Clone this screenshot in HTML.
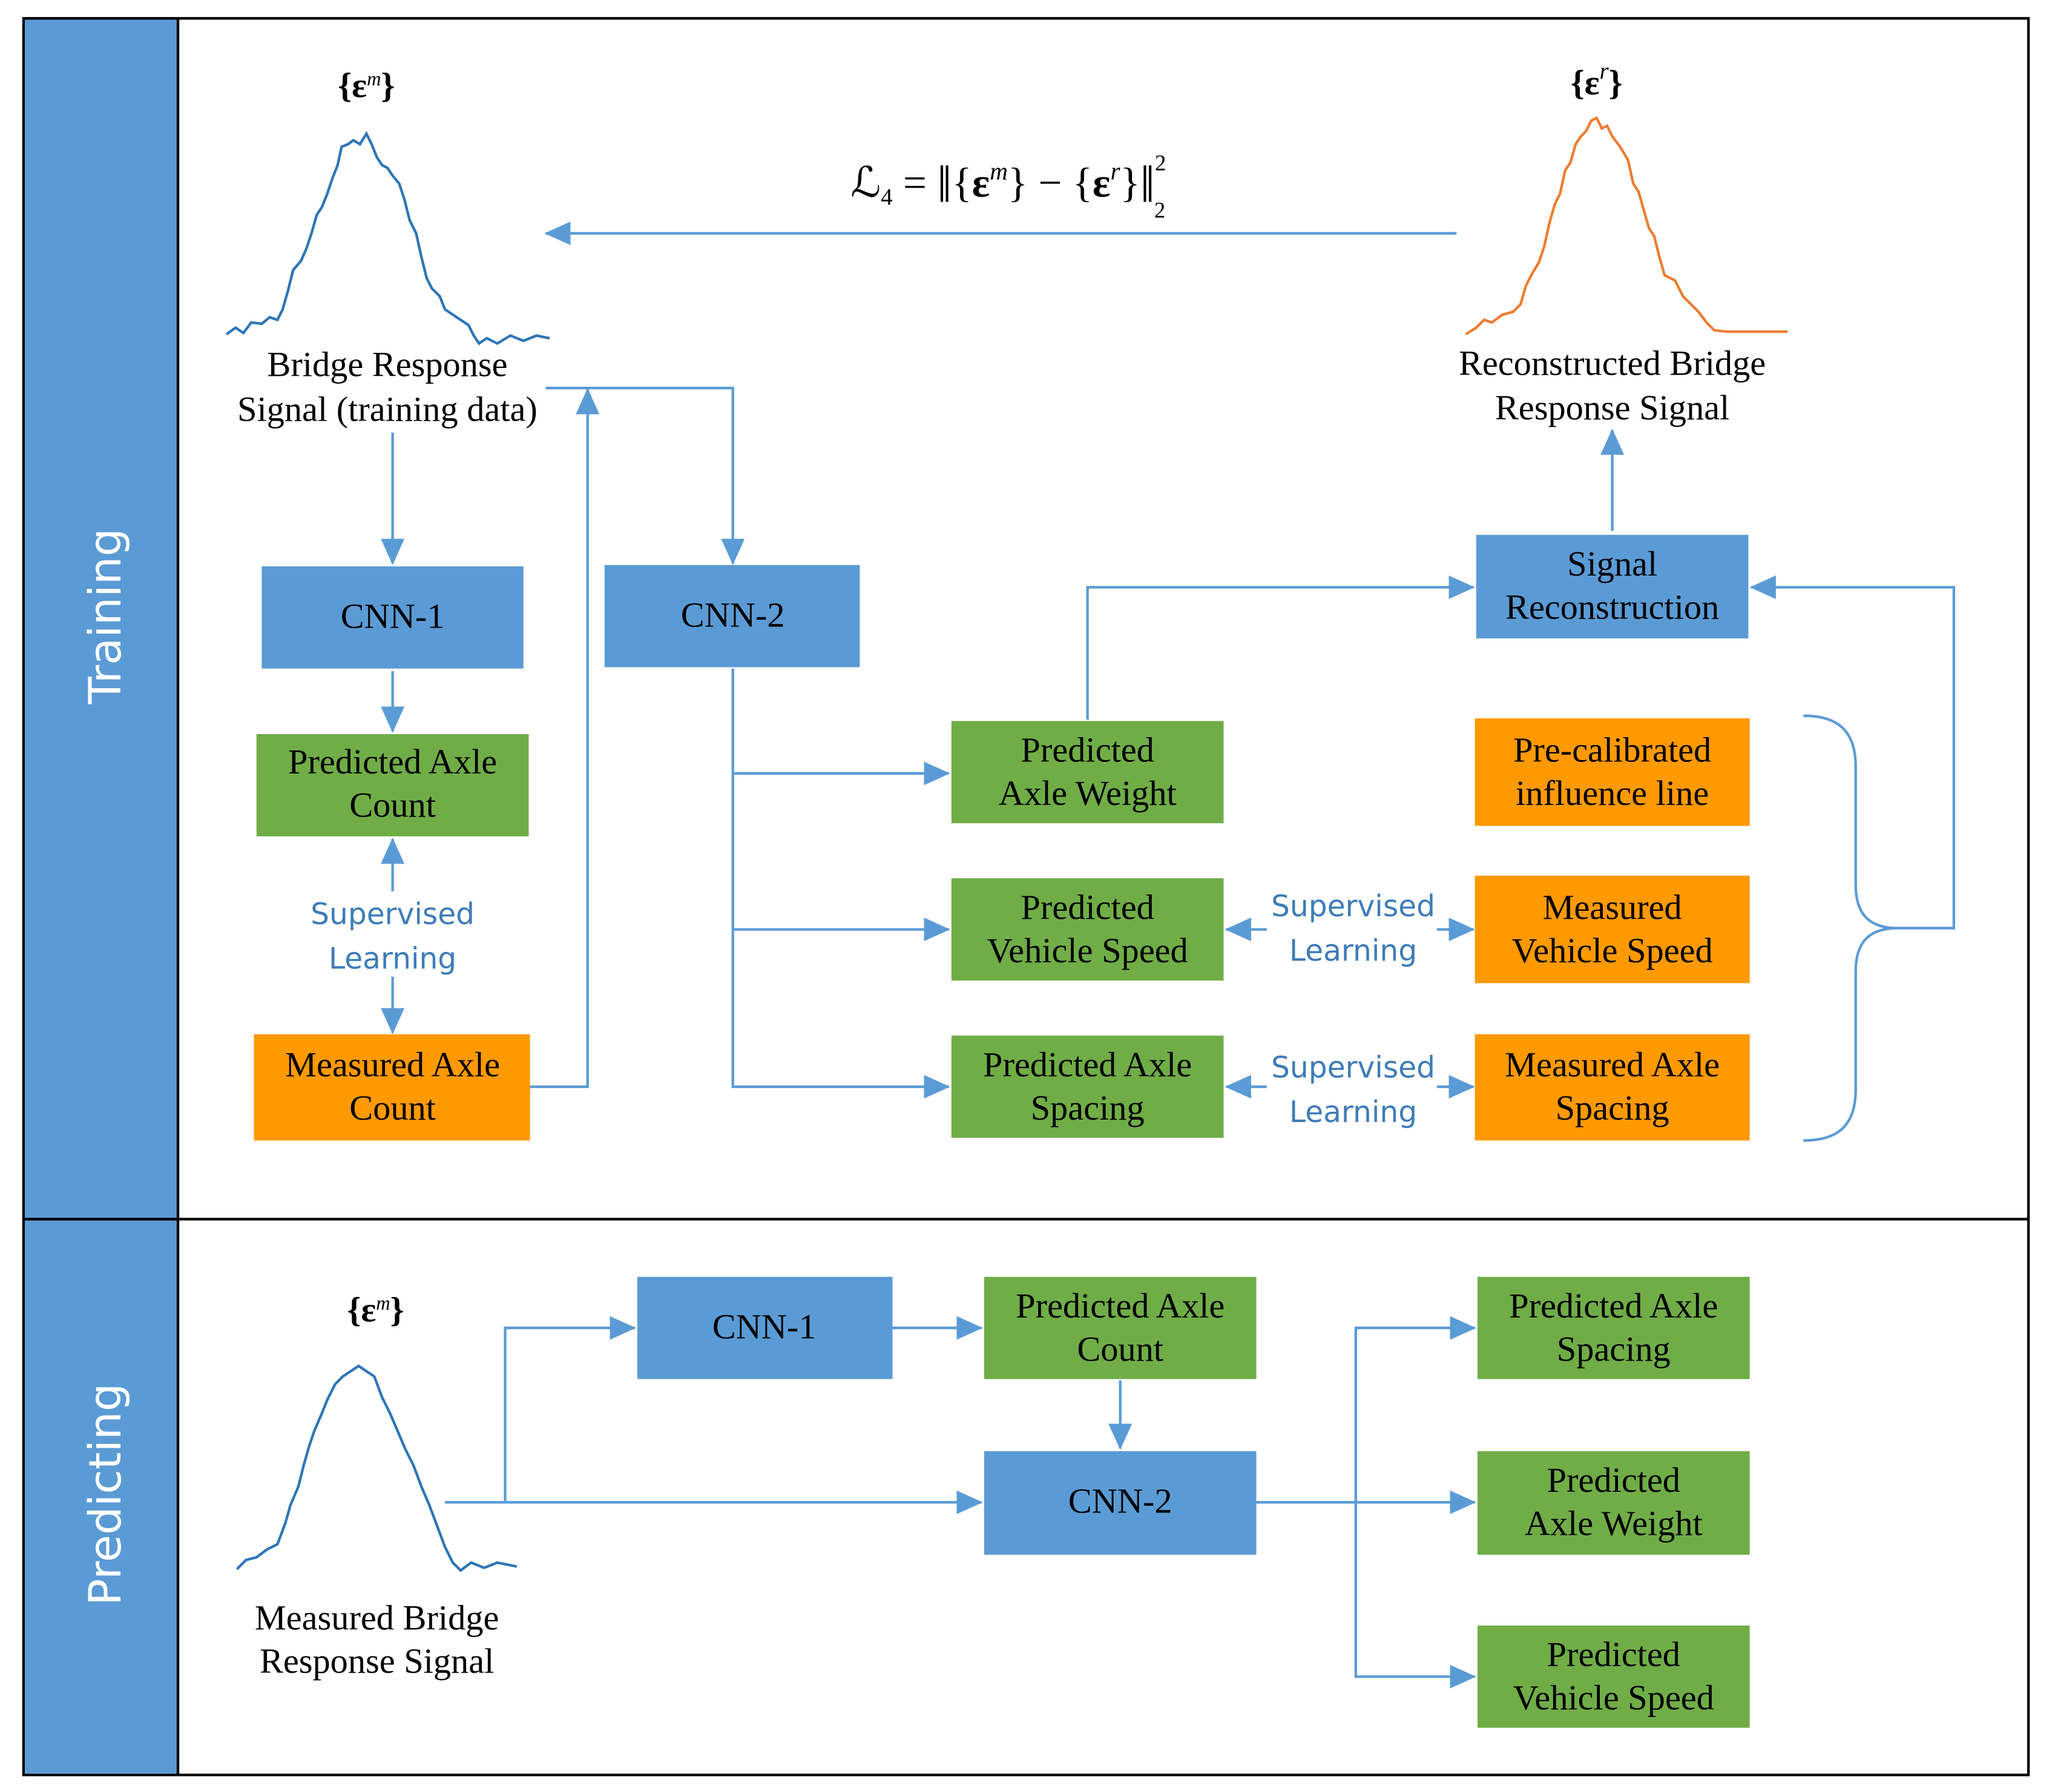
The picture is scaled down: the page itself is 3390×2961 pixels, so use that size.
<!DOCTYPE html>
<html><head><meta charset="utf-8"><style>html,body{margin:0;padding:0;background:#fff}svg{display:block}</style></head><body>
<svg xmlns="http://www.w3.org/2000/svg" width="3390" height="2961" viewBox="0 0 1568 1367" preserveAspectRatio="none">
<defs>
<marker id="a" markerWidth="20" markerHeight="18" refX="19" refY="9" orient="auto" markerUnits="userSpaceOnUse" viewBox="0 0 20 18"><path d="M0,0L20,9L0,18z" fill="#5B9BD5"/></marker>
</defs>
<style>
.s{font-family:"Liberation Serif",serif;font-size:27px;fill:#000;text-anchor:middle}
.sl{font-family:"DejaVu Sans","Liberation Sans",sans-serif;font-size:22.5px;fill:#3E7CB8;text-anchor:middle}
.l{stroke:#5B9BD5;stroke-width:2;fill:none}
.h{stroke:#5B9BD5;stroke-width:2;fill:none;marker-end:url(#a)}
</style>
<rect x="18" y="14" width="1532" height="1340" fill="#fff" stroke="#000" stroke-width="2"/>
<rect x="19" y="15" width="117" height="1338" fill="#5B9BD5"/>
<line x1="136" y1="14" x2="136" y2="1354" stroke="#000" stroke-width="2"/>
<line x1="18" y1="930" x2="1550" y2="930" stroke="#000" stroke-width="2"/>
<text transform="translate(92,470) rotate(-90)" text-anchor="middle" font-family="DejaVu Sans,Liberation Sans,sans-serif" font-size="34" fill="#fff">Training</text>
<text transform="translate(92,1140) rotate(-90)" text-anchor="middle" font-family="DejaVu Sans,Liberation Sans,sans-serif" font-size="34" fill="#fff">Predicting</text>

<polyline fill="none" stroke="#2E75B6" stroke-width="2" points="173,255 180,250 186,254 192,246 200,247 206,242 212,244 216,236 220,222 224,206 230,199 234,190 238,178 242,164 246,158 250,148 254,136 258,126 261,112 266,110 270,107 275,110 280,102 284,110 288,120 292,126 296,128 300,134 305,140 309,152 313,168 318,178 322,196 326,212 330,220 336,226 340,236 346,240 352,244 358,248 362,256 366,262 372,258 380,262 390,256 400,260 410,256 420,258"/>
<polyline fill="none" stroke="#ED7D31" stroke-width="2" points="1120,255 1128,250 1134,244 1140,246 1148,240 1156,238 1162,232 1166,218 1170,210 1176,200 1180,188 1184,170 1188,156 1192,148 1196,130 1200,124 1204,110 1208,104 1212,100 1216,92 1220,90 1224,98 1228,96 1232,104 1238,112 1244,122 1248,140 1252,146 1256,160 1260,174 1264,180 1268,196 1272,210 1280,214 1286,226 1292,232 1298,238 1304,246 1310,252 1320,253 1366,253"/>
<polyline fill="none" stroke="#2E75B6" stroke-width="2" points="181,1197 188,1190 196,1188 204,1182 212,1178 218,1162 222,1148 228,1134 232,1118 236,1104 240,1092 246,1078 250,1068 256,1056 262,1050 268,1046 274,1042 280,1046 286,1050 292,1066 298,1078 304,1092 310,1106 316,1118 322,1134 328,1148 334,1164 340,1180 346,1192 352,1198 360,1192 370,1196 380,1192 395,1195"/>

<text x="280" y="74" class="s" font-size="22" font-weight="bold">{ε<tspan font-style="italic" font-weight="normal" font-size="15" dy="-9">m</tspan><tspan dy="9">}</tspan></text>
<text x="1220" y="72" class="s" font-size="30" font-weight="bold">{ε<tspan font-style="italic" font-weight="normal" font-size="18" dy="-12">r</tspan><tspan dy="12">}</tspan></text>
<text x="287" y="1008" class="s" font-size="22" font-weight="bold">{ε<tspan font-style="italic" font-weight="normal" font-size="15" dy="-9">m</tspan><tspan dy="9">}</tspan></text>
<text x="650" y="150" font-family="Liberation Serif,serif" font-size="32">ℒ<tspan font-size="18" dy="6">4</tspan><tspan dy="-6"> = </tspan><tspan font-size="40" dy="4">‖</tspan><tspan dy="-4">{</tspan><tspan font-weight="bold">ε</tspan><tspan font-style="italic" font-size="19" dy="-13">m</tspan><tspan dy="13">} − {</tspan><tspan font-weight="bold">ε</tspan><tspan font-style="italic" font-size="19" dy="-13">r</tspan><tspan dy="13">}</tspan><tspan font-size="40" dy="4">‖</tspan><tspan font-size="17" dy="-24">2</tspan><tspan font-size="17" dx="-9" dy="36">2</tspan></text>

<text x="296" y="287" class="s">Bridge Response</text>
<text x="296" y="321" class="s">Signal (training data)</text>
<text x="1232" y="286" class="s">Reconstructed Bridge</text>
<text x="1232" y="320" class="s">Response Signal</text>
<text x="288" y="1243" class="s">Measured Bridge</text>
<text x="288" y="1276" class="s">Response Signal</text>

<g>
<rect x="200" y="432" width="200" height="78" fill="#5B9BD5"/><text x="300" y="479" class="s">CNN-1</text>
<rect x="462" y="431" width="195" height="78" fill="#5B9BD5"/><text x="560" y="478" class="s">CNN-2</text>
<rect x="196" y="560" width="208" height="78" fill="#70AD47"/><text x="300" y="590" class="s">Predicted Axle</text><text x="300" y="623" class="s">Count</text>
<rect x="194" y="789" width="211" height="81" fill="#FF9900"/><text x="300" y="821" class="s">Measured Axle</text><text x="300" y="854" class="s">Count</text>
<rect x="727" y="550" width="208" height="78" fill="#70AD47"/><text x="831" y="581" class="s">Predicted</text><text x="831" y="614" class="s">Axle Weight</text>
<rect x="727" y="670" width="208" height="78" fill="#70AD47"/><text x="831" y="701" class="s">Predicted</text><text x="831" y="734" class="s">Vehicle Speed</text>
<rect x="727" y="790" width="208" height="78" fill="#70AD47"/><text x="831" y="821" class="s">Predicted Axle</text><text x="831" y="854" class="s">Spacing</text>
<rect x="1128" y="408" width="208" height="79" fill="#5B9BD5"/><text x="1232" y="439" class="s">Signal</text><text x="1232" y="472" class="s">Reconstruction</text>
<rect x="1127" y="548" width="210" height="82" fill="#FF9900"/><text x="1232" y="581" class="s">Pre-calibrated</text><text x="1232" y="614" class="s">influence line</text>
<rect x="1127" y="668" width="210" height="82" fill="#FF9900"/><text x="1232" y="701" class="s">Measured</text><text x="1232" y="734" class="s">Vehicle Speed</text>
<rect x="1127" y="789" width="210" height="81" fill="#FF9900"/><text x="1232" y="821" class="s">Measured Axle</text><text x="1232" y="854" class="s">Spacing</text>

<rect x="487" y="974" width="195" height="78" fill="#5B9BD5"/><text x="584" y="1021" class="s">CNN-1</text>
<rect x="752" y="974" width="208" height="78" fill="#70AD47"/><text x="856" y="1005" class="s">Predicted Axle</text><text x="856" y="1038" class="s">Count</text>
<rect x="752" y="1107" width="208" height="79" fill="#5B9BD5"/><text x="856" y="1154" class="s">CNN-2</text>
<rect x="1129" y="974" width="208" height="78" fill="#70AD47"/><text x="1233" y="1005" class="s">Predicted Axle</text><text x="1233" y="1038" class="s">Spacing</text>
<rect x="1129" y="1107" width="208" height="79" fill="#70AD47"/><text x="1233" y="1138" class="s">Predicted</text><text x="1233" y="1171" class="s">Axle Weight</text>
<rect x="1129" y="1240" width="208" height="78" fill="#70AD47"/><text x="1233" y="1271" class="s">Predicted</text><text x="1233" y="1304" class="s">Vehicle Speed</text>
</g>

<text x="300" y="705" class="sl">Supervised</text><text x="300" y="739" class="sl">Learning</text>
<text x="1034" y="699" class="sl">Supervised</text><text x="1034" y="733" class="sl">Learning</text>
<text x="1034" y="822" class="sl">Supervised</text><text x="1034" y="856" class="sl">Learning</text>

<path class="h" d="M1113,178H417"/>
<path class="h" d="M300,330V430"/>
<path class="h" d="M300,512V558"/>
<path class="h" d="M300,680V640"/>
<path class="h" d="M300,745V788"/>
<path class="h" d="M405,829H449V297"/>
<path class="h" d="M417,296H560V430"/>
<path class="h" d="M560,510V829H725"/>
<path class="h" d="M560,590H725"/>
<path class="h" d="M560,709H725"/>
<path class="h" d="M831,549V448H1126"/>
<path class="h" d="M1232,405V328"/>
<path class="h" d="M1450,708H1493V448H1338"/>
<path class="l" d="M1378,546C1405,546 1418,558 1418,585V675C1418,697 1428,708 1450,708C1428,708 1418,719 1418,741V831C1418,858 1405,870 1378,870"/>
<path class="h" d="M968,709H937"/>
<path class="h" d="M1098,709H1126"/>
<path class="h" d="M968,829H937"/>
<path class="h" d="M1098,829H1126"/>
<path class="h" d="M340,1146H750"/>
<path class="h" d="M386,1146V1013H485"/>
<path class="h" d="M682,1013H750"/>
<path class="h" d="M856,1053V1105"/>
<path class="h" d="M960,1146H1127"/>
<path class="h" d="M1036,1146V1013H1127"/>
<path class="h" d="M1036,1146V1279H1127"/>
</svg>
</body></html>
